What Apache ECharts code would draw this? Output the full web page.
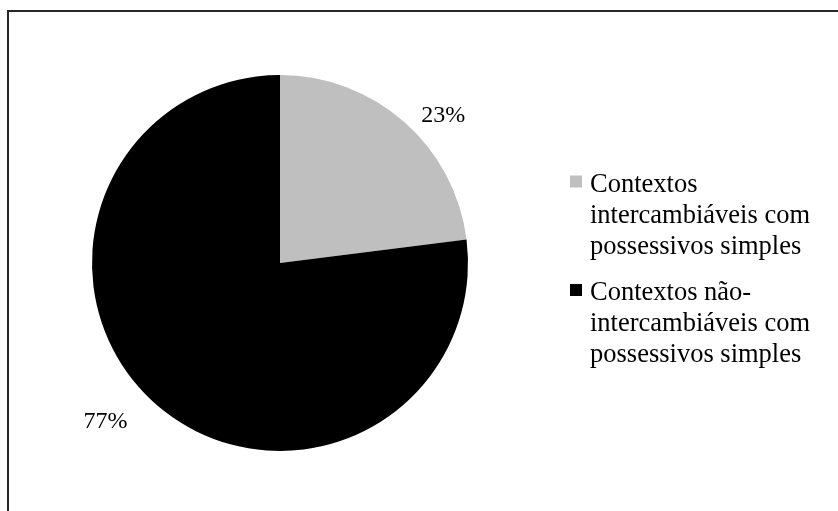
<!DOCTYPE html>
<html>
<head>
<meta charset="utf-8">
<script src="https://cdn.jsdelivr.net/npm/echarts@6/dist/echarts.min.js"></script>
<style>html,body{margin:0;padding:0;background:#fff;}#c{width:838px;height:511px;}</style>
</head>
<body>
<div id="c"></div>
<script>
const categories = ['Contextos intercambiáveis com possessivos simples', 'Contextos não-intercambiáveis com possessivos simples'];
const legendLines = [['Contextos', 'intercambiáveis com', 'possessivos simples'], ['Contextos não-', 'intercambiáveis com', 'possessivos simples']];
const values = [23, 77];
const colors = ['#bfbfbf', '#000000'];

const chart = echarts.init(document.getElementById('c'), null, {renderer: 'canvas'});
const font = '"Liberation Serif", "Times New Roman", serif';

const legendGraphics = [];
const legendTops = [169.5, 278];
legendLines.forEach((lines, i) => {
  legendGraphics.push({
    type: 'rect', left: 570, top: legendTops[i] + 6,
    shape: {width: 12, height: 12}, style: {fill: colors[i]}
  });
  legendGraphics.push({
    type: 'text', left: 590, top: legendTops[i],
    style: {text: lines.join('\n'), font: '26.5px ' + font, lineHeight: 31, fill: '#000', verticalAlign: 'top'}
  });
});

const labelCfg = [{length: 9, length2: 6}, {length: 23, length2: 8}];

chart.setOption({
  backgroundColor: '#fff',
  animation: false,
  graphic: [
    {type: 'rect', shape: {x: 8, y: 11, width: 900, height: 600}, style: {fill: 'none', stroke: '#262626', lineWidth: 2}},
    ...legendGraphics
  ],
  series: [{
    type: 'pie',
    center: [280, 263],
    radius: 188,
    startAngle: 90,
    clockwise: true,
    avoidLabelOverlap: false,
    itemStyle: {borderWidth: 0},
    label: {show: true, position: 'outside', formatter: '{c}%', fontFamily: font, fontSize: 24, color: '#000'},
    labelLine: {show: false},
    emphasis: {disabled: true},
    data: categories.map((name, i) => ({
      name, value: values[i], itemStyle: {color: colors[i]},
      labelLine: {show: false, length: labelCfg[i].length, length2: labelCfg[i].length2}
    }))
  }]
});
</script>
</body>
</html>
